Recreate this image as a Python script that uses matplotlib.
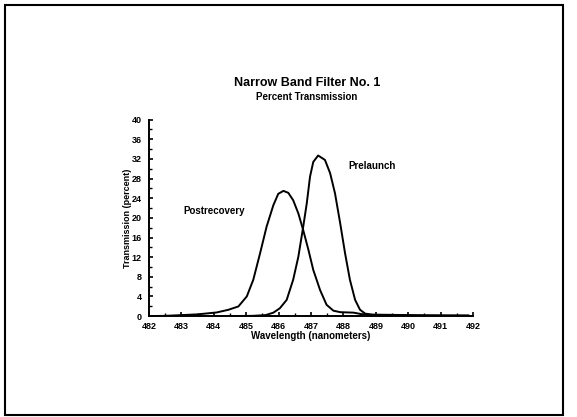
import matplotlib
matplotlib.use("Agg")
from matplotlib import pyplot as plt
from matplotlib.patches import Rectangle
from matplotlib.ticker import MultipleLocator

# Postrecovery curve (wavelength nm, transmission %)
post_wl = [482.0, 482.5, 483.0, 483.5, 484.09, 484.45, 484.76, 485.02, 485.22, 485.43,
           485.63, 485.84, 485.99, 486.15, 486.30, 486.45, 486.61, 486.76, 486.92,
           487.07, 487.28, 487.48, 487.69, 487.9, 488.1, 488.31, 488.56, 488.8, 489.2,
           490.0, 491.0, 491.85]
post_t = [0.0, 0.05, 0.2, 0.35, 0.74, 1.28, 1.96, 4.0, 7.4, 12.8,
          18.2, 22.6, 24.9, 25.5, 25.1, 23.6, 20.9, 17.5, 13.5,
          9.4, 5.3, 2.3, 1.1, 0.8, 0.75, 0.7, 0.4, 0.25, 0.2,
          0.15, 0.1, 0.1]

# Prelaunch curve
pre_wl = [484.5, 485.2, 485.6, 485.84, 486.04, 486.25, 486.45, 486.61, 486.76, 486.87,
          486.97, 487.07, 487.22, 487.43, 487.59, 487.74, 487.9, 488.05, 488.2,
          488.36, 488.51, 488.67, 488.9, 489.5, 490.5, 491.85]
pre_t = [0.0, 0.05, 0.2, 0.7, 1.6, 3.3, 7.4, 12.1, 18.2, 23.0,
         28.4, 31.4, 32.7, 31.8, 29.1, 25.0, 18.9, 12.8, 7.4,
         3.3, 1.3, 0.5, 0.3, 0.25, 0.15, 0.1]

x_ticks = list(range(482, 493))
y_ticks = list(range(0, 41, 4))

plt.rcParams['font.family'] = ['Liberation Sans', 'DejaVu Sans']
plt.rcParams['font.weight'] = 'bold'

fig = plt.figure(figsize=(5.77, 4.17), dpi=100)
ax = fig.add_axes([0.258, 0.242, 0.562, 0.471])

ax.plot(post_wl, post_t, color='black', linewidth=1.4)
ax.plot(pre_wl, pre_t, color='black', linewidth=1.4)

ax.set_xlim(482, 492)
ax.set_ylim(0, 40)
ax.set_xticks(x_ticks)
ax.set_yticks(y_ticks)
ax.xaxis.set_minor_locator(MultipleLocator(0.5))
ax.yaxis.set_minor_locator(MultipleLocator(2))
ax.tick_params(axis='both', which='major', direction='in', length=3, width=1.2,
               labelsize=6.5)
ax.tick_params(axis='x', which='major', pad=4)
ax.tick_params(axis='y', which='major', pad=5)
ax.tick_params(axis='both', which='minor', direction='in', length=2, width=1.0)
for lab in ax.get_xticklabels() + ax.get_yticklabels():
    lab.set_fontweight('bold')

ax.spines['top'].set_visible(False)
ax.spines['right'].set_visible(False)
ax.spines['left'].set_linewidth(1.4)
ax.spines['bottom'].set_linewidth(1.4)

ax.set_xlabel('Wavelength (nanometers)', fontsize=7, fontweight='bold', labelpad=0.5)
ax.set_ylabel('Transmission (percent)', fontsize=6.5, fontweight='bold', labelpad=0)

ax.text(483.05, 21.5, 'Postrecovery', fontsize=7, fontweight='bold', va='center')
ax.text(488.14, 30.6, 'Prelaunch', fontsize=7, fontweight='bold', va='center')

fig.text(0.532, 0.80, 'Narrow Band Filter No. 1', ha='center', va='center',
         fontsize=9, fontweight='bold')
fig.text(0.532, 0.768, 'Percent Transmission', ha='center', va='center',
         fontsize=7, fontweight='bold')

# scanned page frame
fig.patches.append(Rectangle((0.009, 0.005), 0.967, 0.983, transform=fig.transFigure,
                             fill=False, edgecolor='black', linewidth=1.5))

fig.savefig('out.png', dpi=100)
